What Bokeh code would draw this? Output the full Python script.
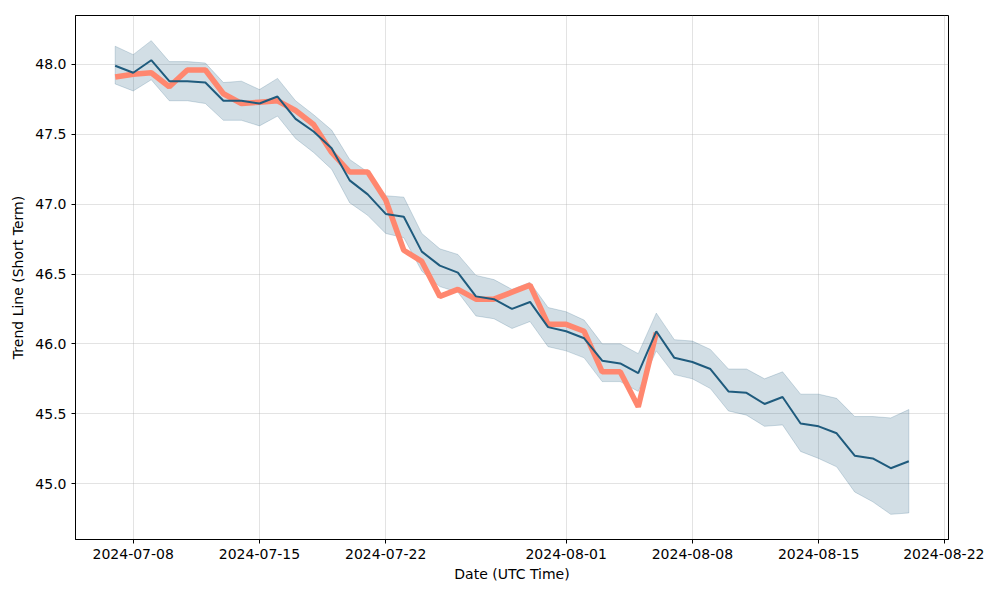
import numpy as np
import pandas as pd
from bokeh.plotting import figure
from bokeh.models import FixedTicker, DatetimeTickFormatter, NumeralTickFormatter, Range1d
from bokeh.embed import file_html
from bokeh.resources import INLINE

dates = pd.date_range("2024-07-07", "2024-08-20", freq="D")

trend = [47.99, 47.94, 48.03, 47.88, 47.88, 47.87, 47.74, 47.74, 47.72, 47.77,
         47.61, 47.52, 47.40, 47.17, 47.07, 46.93, 46.91, 46.66, 46.56, 46.51,
         46.34, 46.32, 46.25, 46.30, 46.12, 46.09, 46.04, 45.88, 45.86, 45.79,
         46.09, 45.90, 45.87, 45.82, 45.66, 45.65, 45.57, 45.62, 45.43, 45.41,
         45.36, 45.20, 45.18, 45.11, 45.16]

upper = [48.13, 48.07, 48.17, 48.02, 48.02, 48.01, 47.87, 47.88, 47.82, 47.90,
         47.74, 47.64, 47.53, 47.32, 47.23, 47.06, 47.05, 46.79, 46.68, 46.64,
         46.49, 46.46, 46.39, 46.44, 46.26, 46.23, 46.17, 46.00, 46.00, 45.93,
         46.22, 46.03, 46.02, 45.96, 45.82, 45.82, 45.75, 45.80, 45.64, 45.64,
         45.61, 45.48, 45.48, 45.47, 45.53]

lower = [47.86, 47.81, 47.89, 47.74, 47.74, 47.72, 47.60, 47.60, 47.56, 47.63,
         47.47, 47.37, 47.25, 47.01, 46.92, 46.79, 46.76, 46.52, 46.41, 46.37,
         46.20, 46.18, 46.11, 46.16, 45.98, 45.95, 45.90, 45.73, 45.73, 45.66,
         45.95, 45.78, 45.75, 45.68, 45.52, 45.49, 45.41, 45.42, 45.23, 45.18,
         45.12, 44.94, 44.87, 44.78, 44.79]

actual = [47.91, 47.93, 47.94, 47.84, 47.96, 47.96, 47.79, 47.72, 47.73, 47.74,
          47.67, 47.57, 47.37, 47.23, 47.23, 47.03, 46.67, 46.59, 46.34, 46.39,
          46.32, 46.32, 46.37, 46.42, 46.14, 46.14, 46.09, 45.80, 45.80, 45.55,
          46.08]

x_ticks = ["2024-07-08", "2024-07-15", "2024-07-22", "2024-08-01",
           "2024-08-08", "2024-08-15", "2024-08-22"]
y_ticks = [45.0, 45.5, 46.0, 46.5, 47.0, 47.5, 48.0]

dark = "#1f5b7d"
orange = "#ff876f"

pad = pd.Timedelta(days=2.2)
p = figure(width=984, height=584, x_axis_type="datetime",
           output_backend="svg", toolbar_location=None,
           x_range=Range1d(dates[0] - pad, dates[-1] + pad),
           y_range=Range1d(44.60, 48.35),
           min_border_left=75, min_border_right=36,
           min_border_top=15, min_border_bottom=42)

band_x = list(dates) + list(dates[::-1])
band_y = list(upper) + list(lower[::-1])
p.patch(band_x, band_y, fill_color=dark, fill_alpha=0.2,
        line_color=dark, line_alpha=0.2, line_width=1)

p.line(dates[:len(actual)], actual, line_color=orange, line_width=5.5)
p.line(dates, trend, line_color=dark, line_width=2)

ms = [pd.Timestamp(t).value // 10**6 for t in x_ticks]
p.xaxis.ticker = FixedTicker(ticks=ms)
p.xaxis.formatter = DatetimeTickFormatter(days="%Y-%m-%d", months="%Y-%m-%d",
                                          hours="%Y-%m-%d")
p.yaxis.ticker = FixedTicker(ticks=y_ticks)
p.yaxis.formatter = NumeralTickFormatter(format="0.0")

p.xaxis.axis_label = "Date (UTC Time)"
p.yaxis.axis_label = "Trend Line (Short Term)"

for ax in (p.xaxis, p.yaxis):
    ax.axis_label_text_font = "DejaVu Sans"
    ax.axis_label_text_font_size = "14px"
    ax.axis_label_text_font_style = "normal"
    ax.axis_label_text_color = "black"
    ax.major_label_text_font = "DejaVu Sans"
    ax.major_label_text_font_size = "14px"
    ax.major_label_text_color = "black"
    ax.axis_line_color = "black"
    ax.major_tick_line_color = "black"
    ax.major_tick_in = 0
    ax.major_tick_out = 4
    ax.minor_tick_line_color = None
    ax.axis_label_standoff = 6

p.xaxis.axis_label_standoff = 4
p.xaxis.major_label_standoff = 5

p.grid.grid_line_color = "#b0b0b0"
p.grid.grid_line_alpha = 0.35
p.outline_line_color = "black"
p.outline_line_alpha = 1.0
p.background_fill_color = "white"
p.border_fill_color = "white"

open("out.html", "w").write(file_html(p, INLINE))
